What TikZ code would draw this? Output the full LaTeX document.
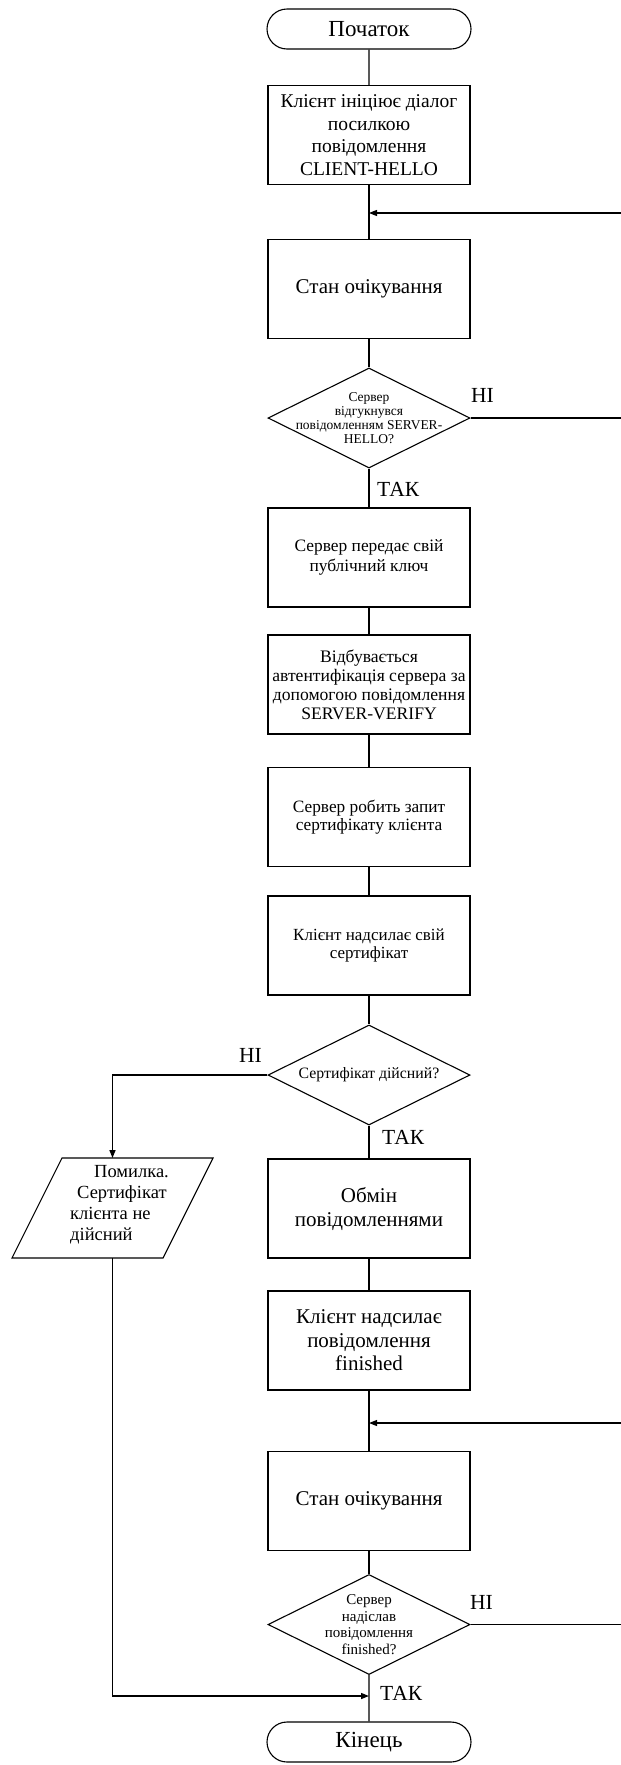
\documentclass[tikz,border=0pt]{standalone}
\usepackage{fontspec}
\setmainfont{Liberation Serif}
\usetikzlibrary{shapes.geometric,shapes.misc,arrows.meta}
\tikzset{
  stepbox/.style={draw, line width=1.4pt, minimum width=202pt, minimum height=99pt, align=center, inner sep=1pt},
  term/.style={draw, rounded rectangle, line width=1.1pt, minimum width=204pt, minimum height=40pt, inner sep=0pt, font=\fontsize{23pt}{26pt}\selectfont},
  dec/.style={draw, diamond, line width=1.1pt, minimum width=202pt, minimum height=100pt, inner sep=0pt},
  dectext/.style={align=center, inner sep=0pt},
  flow/.style={line width=1.4pt},
  back/.style={line width=1.1pt},
  tip/.style={-{Triangle[length=8pt,width=6pt]}},
  lab/.style={font=\fontsize{21.5pt}{24pt}\selectfont, inner sep=0pt},
  boxline/.style={draw, line width=1.1pt},
}
\begin{document}
\begin{tikzpicture}[x=1pt,y=-1pt]
\useasboundingbox (0,0) rectangle (621,1765);
% nodes
\node[term] (start) at (369,29) {Початок};
\node[stepbox, font=\fontsize{19.5pt}{22.5pt}\selectfont] (b1) at (369,135) {Клієнт ініціює діалог\\посилкою\\повідомлення\\CLIENT-HELLO};
\coordinate (m1) at (369,213);
\coordinate (r1) at (621,213);
\node[stepbox, font=\fontsize{21pt}{24pt}\selectfont] (b2) at (369,289) {Стан очікування};
\node[dec, label={[dectext, font=\fontsize{13.5pt}{14pt}\selectfont]center:{Сервер\\відгукнувся\\повідомленням SERVER-\\HELLO?}}] (d1) at (369,418) {};
\coordinate (r2) at (621,418);
\node[lab, anchor=west] (n1) at (471,395) {НІ};
\node[lab, anchor=west] (y1) at (377,489) {ТАК};
\node[stepbox, font=\fontsize{17.4pt}{20pt}\selectfont] (b3) at (369,557.5) {Сервер передає свій\\публічний ключ};
\node[stepbox, font=\fontsize{17.6pt}{19pt}\selectfont] (b4) at (369,684.5) {Відбувається\\автентифікація сервера за\\допомогою повідомлення\\SERVER-VERIFY};
\node[stepbox, font=\fontsize{17.3pt}{18.5pt}\selectfont] (b5) at (369,817) {Сервер робить запит\\сертифікату клієнта};
\node[stepbox, font=\fontsize{17pt}{18.5pt}\selectfont] (b6) at (369,945.5) {Клієнт надсилає свій\\сертифікат};
\node[dec, label={[dectext, font=\fontsize{15.8pt}{17pt}\selectfont]center:{Сертифікат дійсний?}}] (d2) at (369,1075) {};
\node[lab, anchor=west] (n2) at (239,1055) {НІ};
\coordinate (c2) at (112.5,1075);
\coordinate (errtop) at (112.5,1158);
\coordinate (errbot) at (112.5,1258);
\draw[boxline] (62,1158) -- (213,1158) -- (163,1258) -- (12,1258) -- cycle;
\node[font=\fontsize{18.5pt}{21pt}\selectfont, align=left, anchor=west, inner sep=0pt] (err) at (70,1205) {\hspace*{24pt}Помилка.\\\hspace*{7pt}Сертифікат\\клієнта не\\дійсний};
\node[lab, anchor=west] (y2) at (382,1137) {ТАК};
\node[stepbox, font=\fontsize{21pt}{24pt}\selectfont] (b7) at (369,1208.5) {Обмін\\повідомленнями};
\node[stepbox, font=\fontsize{21pt}{23.5pt}\selectfont] (b8) at (369,1340.5) {Клієнт надсилає\\повідомлення\\finished};
\coordinate (m2) at (369,1423);
\coordinate (r3) at (621,1423);
\node[stepbox, font=\fontsize{21pt}{24pt}\selectfont] (b9) at (369,1501) {Стан очікування};
\node[dec, label={[dectext, font=\fontsize{15pt}{16.5pt}\selectfont]center:{Сервер\\надіслав\\повідомлення\\finished?}}] (d3) at (369,1624.5) {};
\node[lab, anchor=west] (n3) at (470,1602) {НІ};
\coordinate (r4) at (621,1624.5);
\coordinate (m3) at (369,1696);
\coordinate (c3) at (112.5,1696);
\node[lab, anchor=west] (y3) at (380,1693) {ТАК};
\node[term] (end) at (369,1742) {Кінець};
% main flow
\draw[flow] (start) -- (b1);
\draw[flow] (b1) -- (b2);
\draw[flow] (b2) -- (d1);
\draw[flow] (d1) -- (b3);
\draw[flow] (b3) -- (b4);
\draw[flow] (b4) -- (b5);
\draw[flow] (b5) -- (b6);
\draw[flow] (b6) -- (d2);
\draw[flow] (d2) -- (b7);
\draw[flow] (b7) -- (b8);
\draw[flow] (b8) -- (b9);
\draw[flow] (b9) -- (d3);
\draw[flow] (d3) -- (end);
% feedback lines
\draw[back, tip] (r1) -- (m1);
\draw[back] (d1.east) -- (r2);
\draw[back, tip] (r3) -- (m2);
\draw[back] (d3.east) -- (r4);
% error branch
\draw[flow, tip] (d2.west) -- (c2) -- (errtop);
\draw[flow, tip] (errbot) -- (c3) -- (m3);
\end{tikzpicture}
\end{document}
